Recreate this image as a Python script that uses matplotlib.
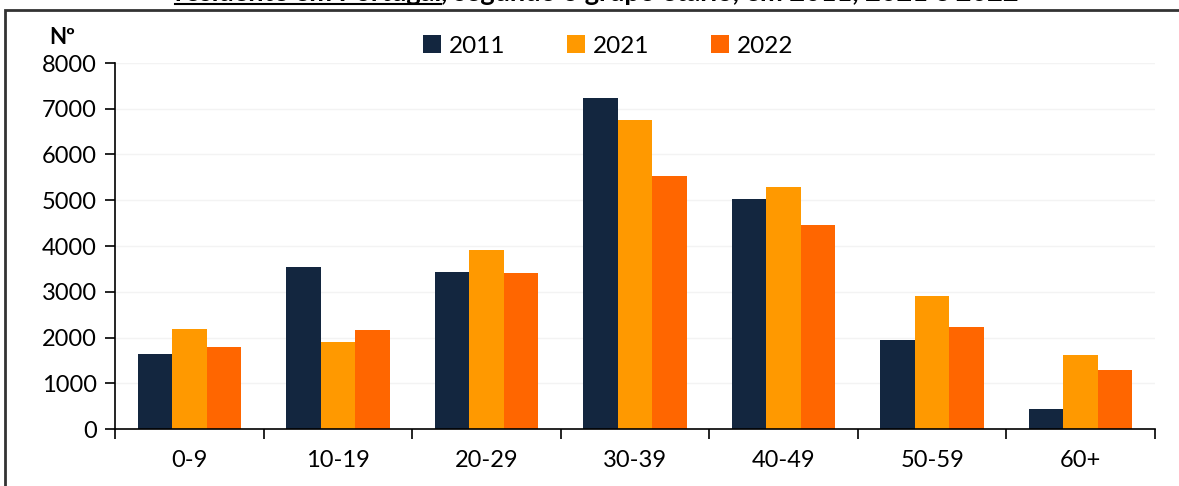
import matplotlib
matplotlib.use("Agg")
import matplotlib.pyplot as plt
import numpy as np
from matplotlib.patches import Rectangle
from matplotlib.lines import Line2D

groups = ["0-9", "10-19", "20-29", "30-39", "40-49", "50-59", "60+"]
years = ["2011", "2021", "2022"]
v2011 = [1640, 3540, 3430, 7230, 5030, 1950, 440]
v2021 = [2190, 1900, 3910, 6750, 5290, 2910, 1620]
v2022 = [1790, 2160, 3410, 5530, 4460, 2230, 1290]
colors = ["#13263f", "#ff9900", "#ff6600"]

plt.rcParams["font.family"] = ["Lato", "DejaVu Sans"]

W, H = 1179, 486
fig = plt.figure(figsize=(W / 100, H / 100), dpi=100)
ax = fig.add_axes([115 / W, 1 - 429 / H, (1155 - 115) / W, (429 - 63) / H])

x = np.arange(len(groups))
bw = 0.232
for i, (vals, c, lab) in enumerate(zip([v2011, v2021, v2022], colors, years)):
    ax.bar(x + (i - 1) * bw, vals, width=bw, color=c, label=lab, zorder=2)

ax.set_xlim(-0.5, len(groups) - 0.5)
ax.set_ylim(0, 8000)
ax.set_yticks(range(0, 8001, 1000))
ax.yaxis.grid(True, color="#f3f3f3", linewidth=1, zorder=0)
ax.set_axisbelow(True)

ax.set_xticks(x)
ax.set_xticklabels(groups)
ax.set_xticks(np.arange(-0.5, len(groups), 1), minor=True)
ax.tick_params(axis="x", which="major", length=0, pad=15, labelsize=17)
ax.tick_params(axis="x", which="minor", length=7, width=1.2, direction="out")
ax.tick_params(axis="y", length=7, width=1.2, direction="out", pad=6, labelsize=17)

for s in ["top", "right"]:
    ax.spines[s].set_visible(False)
ax.spines["left"].set_linewidth(1.2)
ax.spines["bottom"].set_linewidth(1.2)

fig.text(62 / W, 1 - 38 / H, "Nº", fontsize=16, fontweight="bold", ha="center", va="center")

ax.legend(loc="center", bbox_to_anchor=((608 - 115) / (1155 - 115), 1 + (63 - 46) / (429 - 63)),
          ncol=3, frameon=False, fontsize=17.5, handlelength=0.75, handleheight=0.75,
          handletextpad=0.3, columnspacing=2.55)

# border box, clipped at the right and bottom of the image
fig.patches.append(Rectangle((5 / W, -0.2), 1.2, 1.2 - 10 / H, transform=fig.transFigure,
                             fill=False, edgecolor="#333333", linewidth=2))

# cut-off title at the very top, as in the source image
ty = 1 - 1 / H
t1 = fig.text(175 / W, ty, "residente em Portugal", fontsize=19.5, fontweight="bold",
              va="baseline", ha="left")
fig.canvas.draw()
bb = t1.get_window_extent()
t2 = fig.text(bb.x1 / W, ty, ", segundo o grupo etário, em 2011, 2021 e 2022", fontsize=19.5,
              fontweight="bold", va="baseline", ha="left")
fig.lines.append(Line2D([bb.x0 / W, bb.x1 / W], [1 - 4.5 / H, 1 - 4.5 / H],
                        transform=fig.transFigure, color="black", linewidth=1.5))

fig.savefig("out.png", dpi=100)
